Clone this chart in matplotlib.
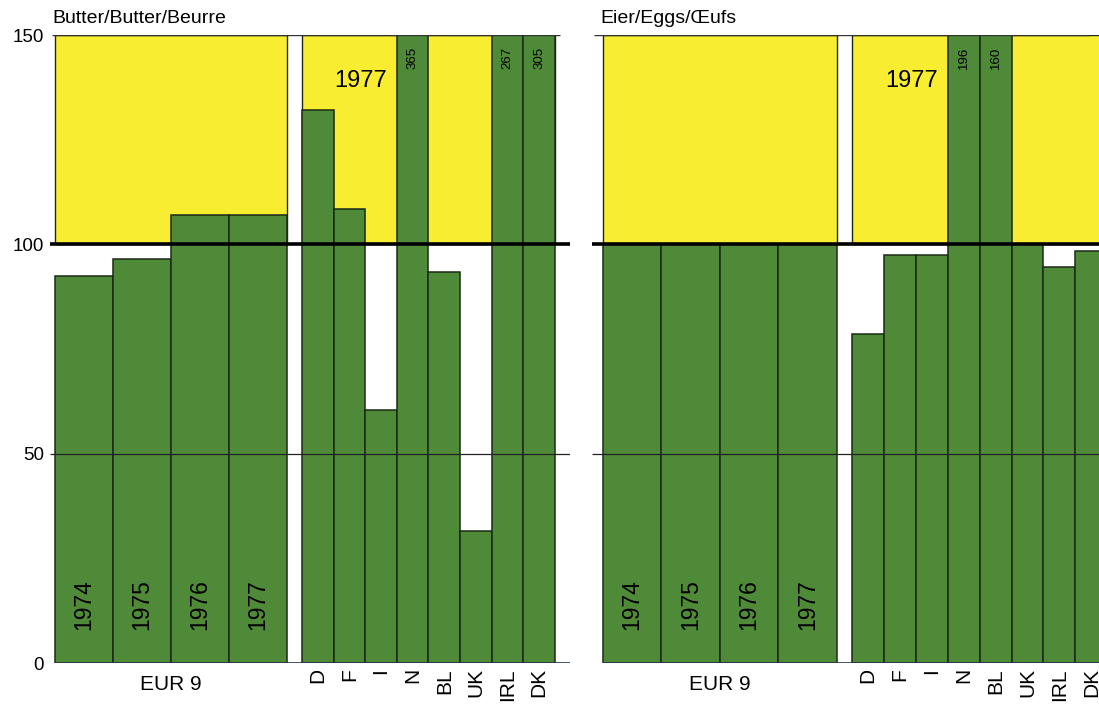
"""Butter and eggs: self-sufficiency index, EUR 9 1974-77 and member states 1977."""

import matplotlib
matplotlib.use("Agg")
import matplotlib.pyplot as plt

plt.rcParams["font.family"] = ["Liberation Sans", "DejaVu Sans"]

# Data (100 = self-sufficient)
YEARS = ["1974", "1975", "1976", "1977"]
COUNTRIES = ["D", "F", "I", "N", "BL", "UK", "IRL", "DK"]

BUTTER_EUR = [92.5, 96.5, 107, 107]
BUTTER_1977 = [132, 108.5, 60.5, 365, 93.5, 31.5, 267, 305]

EGGS_EUR = [100, 100, 100, 100]
EGGS_1977 = [78.5, 97.5, 97.5, 196, 160, 100, 94.5, 98.5]

YELLOW = "#f9ed32"
GREEN = "#4e8a37"
EDGE = "#1b2916"
TOP = 150

# layout (in units of one EUR 9 bar)
GAP = 0.26
CW = 0.545
C0 = len(YEARS) + GAP


def draw_panel(ax, title, eur, c77, xlim, ticks):
    ax.set_xlim(*xlim)
    ax.set_ylim(0, TOP)
    for s in ax.spines.values():
        s.set_visible(False)
    ax.set_xticks([])

    ex = list(range(len(YEARS)))
    cx = [C0 + i * CW for i in range(len(COUNTRIES))]

    # yellow surplus zone above 100
    for x0, w in [(0, len(YEARS)), (C0, CW * len(COUNTRIES))]:
        ax.bar(x0, TOP - 100, bottom=100, width=w, align="edge",
               color=YELLOW, edgecolor=EDGE, linewidth=1.0, zorder=1)

    ax.bar(ex, eur, width=1, align="edge", color=GREEN,
           edgecolor=EDGE, linewidth=1.1, zorder=2)
    ax.bar(cx, c77, width=CW, align="edge", color=GREEN,
           edgecolor=EDGE, linewidth=1.1, zorder=2)

    # reference lines
    x_end = xlim[1]
    ax.hlines(150, xlim[0] + 0.07, x_end - 0.17, color="#333333", lw=1.0, zorder=3)
    ax.hlines(100, xlim[0] + 0.03, x_end, color="black", lw=2.6, zorder=3)
    ax.hlines(50, xlim[0] + 0.03, x_end, color="#222222", lw=0.9, zorder=3)
    ax.hlines(0, 0, x_end, color="#2a3a4a", lw=1.2, zorder=3)

    xt = ax.get_xaxis_transform()
    for i, y in enumerate(YEARS):
        ax.text(ex[i] + 0.5, 14, y, rotation=90, ha="center", va="center",
                fontsize=16.5, zorder=4)
    ax.text(len(YEARS) / 2, -0.035, "EUR 9", transform=xt, ha="center",
            va="center", fontsize=15)
    for i, c in enumerate(COUNTRIES):
        ax.text(cx[i] + CW / 2, -0.008, c, transform=xt, rotation=90,
                ha="center", va="top", fontsize=15)
        if c77[i] > TOP:
            ax.text(cx[i] + CW / 2, 144.5, f"{c77[i]:g}", rotation=90,
                    ha="center", va="center", fontsize=9.5, zorder=4)
    ax.text(C0 + 1.85 * CW, 139, "1977", ha="center", va="center",
            fontsize=17, zorder=4)

    ax.text(-0.05, 1.012, title, transform=xt, ha="left", va="bottom",
            fontsize=14)

    if ticks:
        ax.set_yticks([0, 50, 100, 150])
        ax.tick_params(axis="y", length=0, pad=3, labelsize=13.5)
    else:
        ax.set_yticks([])


fig = plt.figure(figsize=(10.99, 7.05), dpi=100)
W, H = 1099, 705
ax1 = fig.add_axes([48 / W, 42 / H, 522 / W, 628 / H])
ax2 = fig.add_axes([590 / W, 42 / H, 509 / W, 628 / H])

draw_panel(ax1, "Butter/Butter/Beurre", BUTTER_EUR, BUTTER_1977,
           (-0.12, 8.88), ticks=True)
draw_panel(ax2, "Eier/Eggs/Œufs", EGGS_EUR, EGGS_1977,
           (-0.222, 8.479), ticks=False)

fig.savefig("out.png", dpi=100)
